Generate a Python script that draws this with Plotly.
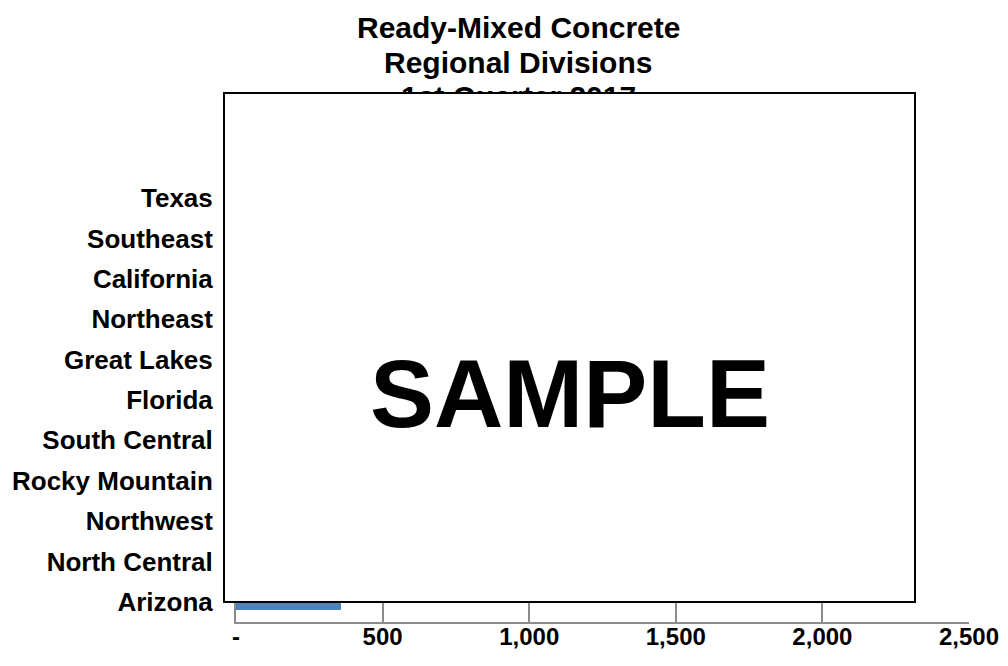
import plotly.graph_objects as go

# Data (top-to-bottom order as displayed)
regions = ["Texas", "Southeast", "California", "Northeast", "Great Lakes", "Florida",
           "South Central", "Rocky Mountain", "Northwest", "North Central", "Arizona"]
# Only Arizona is visible in the reference; others are hidden behind the SAMPLE box (estimates)
volumes = [2150, 1900, 1750, 1500, 1350, 1150, 950, 800, 650, 500, 358]

x_tickvals = [0, 500, 1000, 1500, 2000, 2500]
x_ticktext = ["-", "500", "1,000", "1,500", "2,000", "2,500"]

title_lines = ["Ready-Mixed Concrete", "Regional Divisions", "1st Quarter 2017"]

FONT = "Liberation Sans, Arial, sans-serif"
W, H = 1008, 666
L, R, T, B = 236, 39, 178, 44
pw, ph = W - L - R, H - T - B


def px_to_paper(px, py):
    return (px - L) / pw, (H - B - py) / ph


fig = go.Figure()
fig.add_trace(go.Bar(
    y=regions, x=volumes, orientation="h",
    marker=dict(color="#4F81BD", line=dict(width=0)),
    hoverinfo="skip",
))

annotations = []
for i, line in enumerate(title_lines):
    ax, ay = px_to_paper(518, 27 + 35 * i)
    annotations.append(dict(
        text=line, x=ax, y=ay, xref="paper", yref="paper",
        xanchor="center", yanchor="middle", showarrow=False,
        font=dict(family=FONT, size=30, color="black", weight="bold"),
    ))

# White "SAMPLE" box overlay
bx, by = px_to_paper(569.5, 347.5)
annotations.append(dict(
    text="&nbsp;", x=bx, y=by, xref="paper", yref="paper",
    xanchor="center", yanchor="middle", showarrow=False,
    width=689, height=507, bgcolor="white", bordercolor="black",
    borderwidth=2, borderpad=0,
    font=dict(family=FONT, size=10, color="white"),
))
sx, sy = px_to_paper(569.5, 393)
annotations.append(dict(
    text="SAMPLE", x=sx, y=sy, xref="paper", yref="paper",
    xanchor="center", yanchor="middle", showarrow=False,
    font=dict(family=FONT, size=96, color="black", weight="bold"),
))

fig.update_layout(
    width=W, height=H,
    margin=dict(l=L, r=R, t=T, b=B, autoexpand=False),
    paper_bgcolor="white", plot_bgcolor="white",
    showlegend=False,
    bargap=0.6,
    annotations=annotations,
    xaxis=dict(
        range=[0, 2500], tickvals=x_tickvals, ticktext=x_ticktext,
        showgrid=True, gridcolor="#8c8c8c", gridwidth=1.5,
        showline=True, linecolor="#8c8c8c", linewidth=2,
        zeroline=False, ticks="", ticklabelstandoff=-8,
        tickfont=dict(family=FONT, size=24, color="black", weight="bold"),
        fixedrange=True,
    ),
    yaxis=dict(
        autorange="reversed",
        showgrid=False, showline=True, linecolor="#8c8c8c", linewidth=2,
        zeroline=False, ticks="", ticklabelstandoff=16,
        tickfont=dict(family=FONT, size=26, color="black", weight="bold"),
        fixedrange=True,
    ),
)

fig.write_html(
    "out.html",
    config={"displayModeBar": False},
    post_script="document.body.style.margin='0';document.body.style.overflow='hidden';",
)
